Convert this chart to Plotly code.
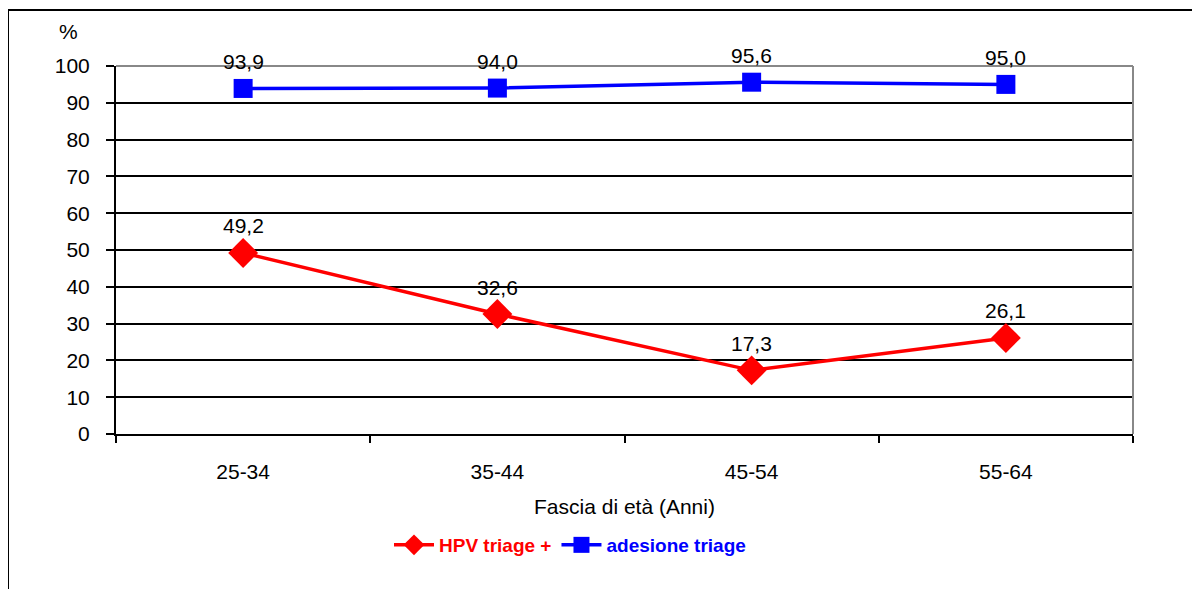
import plotly.graph_objects as go

categories = ["25-34", "35-44", "45-54", "55-64"]
hpv_triage = [49.2, 32.6, 17.3, 26.1]
adesione_triage = [93.9, 94.0, 95.6, 95.0]
y_ticks = list(range(0, 101, 10))

def fmt(v):
    return f"{v:.1f}".replace(".", ",")

FONT = "Liberation Sans Narrow, Arial Narrow, Liberation Sans, Arial, sans-serif"

fig = go.Figure()
fig.add_trace(go.Scatter(
    x=categories, y=hpv_triage, mode="lines+markers",
    name="<b><span style='color:#ff0000'>HPV triage +</span></b>",
    line=dict(color="#ff0000", width=3.5),
    marker=dict(symbol="diamond", size=23, color="#ff0000"),
    cliponaxis=False,
))
fig.add_trace(go.Scatter(
    x=categories, y=adesione_triage, mode="lines+markers",
    name="<b><span style='color:#0000ff'>adesione triage</span></b>",
    line=dict(color="#0000ff", width=3.5),
    marker=dict(symbol="square", size=19, color="#0000ff"),
    cliponaxis=False,
))

# page body has an 8px margin, so work in page coords minus 8
OFF = 8
W, H = 1200 - OFF, 589 - OFF
L, R, T, B = 116 - OFF, 1133 - OFF, 66 - OFF, 434 - OFF
pw, ph = R - L, B - T

def px(x):
    return (x - OFF - L) / pw

def py(y):
    return (B - (y - OFF)) / ph

annotations = [
    dict(text="%", xref="paper", yref="paper", x=px(68), y=py(32), showarrow=False,
         xanchor="center", yanchor="middle", font=dict(family=FONT, size=21)),
]
for series in (hpv_triage, adesione_triage):
    for c, v in zip(categories, series):
        annotations.append(dict(x=c, y=v, xref="x", yref="y", text=fmt(v), showarrow=False,
                                xanchor="center", yanchor="middle", yshift=27,
                                font=dict(family=FONT, size=21, color="black")))

fig.update_layout(
    width=W, height=H,
    margin=dict(l=L, r=W - R, t=T, b=H - B),
    paper_bgcolor="white", plot_bgcolor="white",
    font=dict(family=FONT, size=21, color="black"),
    showlegend=True,
    legend=dict(orientation="h", x=px(570), y=py(545), xanchor="center", yanchor="middle",
                font=dict(family=FONT, size=19), itemwidth=40, tracegroupgap=0),
    xaxis=dict(
        type="category", range=[-0.5, 3.5],
        showline=True, linecolor="black", linewidth=2,
        ticks="outside", tickson="boundaries", ticklen=7, tickwidth=2, tickcolor="black",
        showgrid=False, zeroline=False, ticklabelstandoff=18,
        title=dict(text="Fascia di età (Anni)", font=dict(family=FONT, size=21), standoff=17),
        tickfont=dict(family=FONT, size=21),
    ),
    yaxis=dict(
        range=[0, 100], tickvals=y_ticks,
        showline=True, linecolor="black", linewidth=2,
        ticks="outside", ticklen=8, tickwidth=2, tickcolor="black",
        showgrid=True, gridcolor="black", gridwidth=2, zeroline=False,
        ticklabelstandoff=12,
        tickfont=dict(family=FONT, size=21),
    ),
    shapes=[
        dict(type="line", xref="paper", yref="paper", x0=0, x1=1, y0=1, y1=1,
             line=dict(color="#888888", width=2)),
        dict(type="line", xref="paper", yref="paper", x0=1, x1=1, y0=0, y1=1,
             line=dict(color="#888888", width=2)),
        dict(type="line", xref="paper", yref="paper", x0=px(8), x1=px(1210), y0=py(10), y1=py(10),
             line=dict(color="black", width=2)),
        dict(type="line", xref="paper", yref="paper", x0=px(8), x1=px(8), y0=py(10), y1=py(600),
             line=dict(color="black", width=2)),
    ],
    annotations=annotations,
)

fig.write_html("out.html")
